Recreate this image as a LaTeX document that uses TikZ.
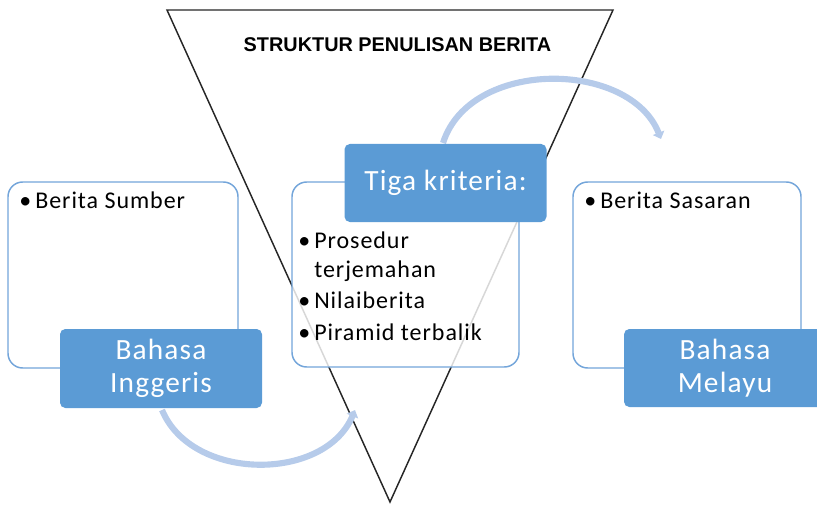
\documentclass[tikz,border=0pt]{standalone}
\usepackage{fontspec}
\setmainfont{Carlito}[LetterSpace=4]
\newfontfamily\titlefont{Liberation Sans}
\usetikzlibrary{arrows.meta}
\definecolor{lblblue}{RGB}{91,155,213}
\definecolor{boxline}{RGB}{115,165,218}
\definecolor{arcblue}{RGB}{182,203,234}
\newcommand\bul{\makebox[12pt][l]{•}}
\begin{document}
\begin{tikzpicture}[x=0.75pt,y=-0.75pt,
  whitebox/.style={draw=boxline,line width=1.1pt,fill=white,fill opacity=0.82,rounded corners=11pt,inner sep=0pt},
  label/.style={fill=lblblue,rounded corners=4pt,text=white,align=center,inner sep=0pt,
     minimum width=151.5pt,font=\fontsize{22}{24.5}\selectfont},
  item/.style={anchor=base west,inner sep=0pt,font=\fontsize{18}{22}\selectfont},
  flow/.style={draw=arcblue,line width=4.6pt,-{Triangle[width=9pt,length=5pt]}},
  tri/.style={draw=black!85,line width=1.1pt,line join=miter}]
\useasboundingbox (0,0) rectangle (817,506);
\clip (0,0) rectangle (817,506);
% inverted triangle
\coordinate (tl) at (167,10);
\coordinate (tr) at (613,10);
\coordinate (bt) at (390,502);
\draw[tri] (tl) -- (tr) -- (bt) -- cycle;
\node[font=\titlefont\bfseries\fontsize{14.9}{16}\selectfont,inner sep=0pt] (title) at (397.5,45) {STRUKTUR PENULISAN BERITA};
% arcs
\coordinate (a1s) at (162,410);
\coordinate (a1e) at (355,410);
\coordinate (a2s) at (443,143);
\coordinate (a2e) at (661,139);
\draw[flow] (a1s) .. controls (192,482) and (325,482) .. (a1e);
\draw[flow] (a2s) .. controls (470,58) and (630,60) .. (a2e);
% white boxes
\node[whitebox,minimum width=172.5pt,minimum height=139.5pt] (lbox) at (123,275) {};
\node[whitebox,minimum width=170.25pt,minimum height=138.75pt] (mbox) at (405.5,274.5) {};
\node[whitebox,minimum width=171pt,minimum height=139.5pt] (rbox) at (687,275) {};
% texts in boxes
\node[item] (l1) at (19,208) {\bul Berita Sumber};
\node[item] (r1) at (584,208) {\bul Berita Sasaran};
\node[item] (m1) at (298,248) {\bul Prosedur};
\node[item] (m2) at (298,277) {\hspace*{12pt}terjemahan};
\node[item] (m3) at (298,308) {\bul Nilaiberita};
\node[item] (m4) at (298,340) {\bul Piramid terbalik};
% blue labels
\node[label,minimum height=59.25pt] (llab) at (161,368.5) {Bahasa\\Inggeris};
\node[label,minimum height=58.5pt] (mlab) at (445.5,183) {Tiga kriteria:};
\node[label,minimum height=58.5pt] (rlab) at (725,368) {Bahasa\\Melayu};
\end{tikzpicture}
\end{document}
